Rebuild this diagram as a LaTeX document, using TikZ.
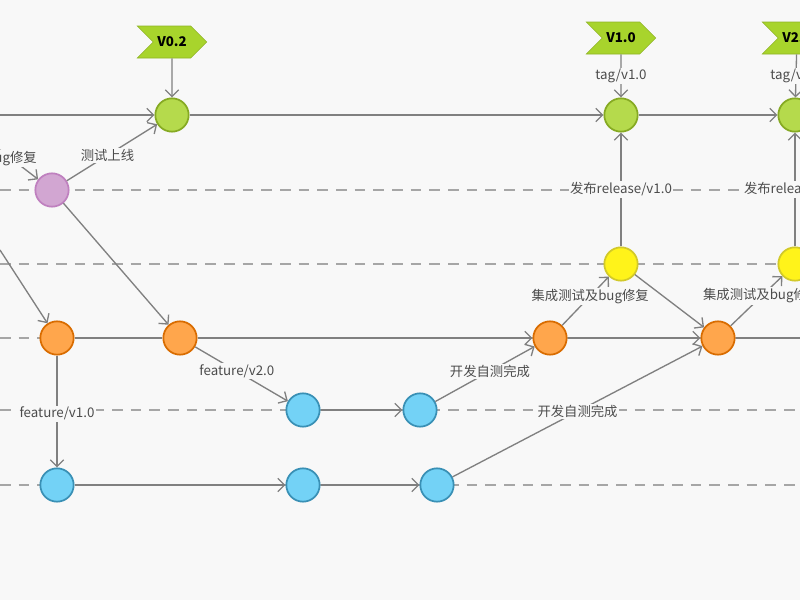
\documentclass[tikz,border=0pt]{standalone}
\usepackage{fontspec}
\setmainfont{Noto Sans CJK SC}
\usetikzlibrary{arrows.meta,shapes.symbols}
\definecolor{bgc}{HTML}{F8F8F8}
\definecolor{linec}{HTML}{808080}
\definecolor{tagc}{HTML}{A8D42C}
\begin{document}
\begin{tikzpicture}
[ x=0.75pt, y=-0.75pt, font=\normalsize
, commit/.style={circle, minimum size=25pt, inner sep=0pt, line width=1.3pt}
, master/.style={commit, fill=tagc!85!white, draw=tagc!80!black}
, hotfix/.style={commit, fill=violet!35!white, draw=violet!50!white}
, devel/.style={commit, fill=orange!70!white, draw=orange!85!black}
, feat/.style={commit, fill=cyan!55!white, draw=cyan!70!black}
, release/.style={commit, fill=yellow!90!white, draw=yellow!80!black}
, tag/.style={signal, signal to=east, signal from=west, fill=tagc, draw=tagc!85!black, font=\bfseries, minimum width=52pt, minimum height=24pt, inner sep=2pt}
, flow/.style={draw=linec, line width=1pt, -{Straight Barb[length=5pt,width=10pt]}}
, lane/.style={draw=linec!70, dashed, dash pattern=on 8pt off 6pt, line width=0.8pt}
, lbl/.style={fill=bgc, inner sep=1pt, text=black!70}
]
\fill[bgc] (0,0) rectangle (800,600);
\useasboundingbox (0,0) rectangle (800,600);
% lanes
\foreach \y in {190,264,338,410,485}
  \draw[lane] (0,\y) -- (800,\y);
% tags
\node (t02) [tag] at (172,42) {V0.2};
\node (t10) [tag] at (621,38) {V1.0};
\node (t20) [tag] at (797,38) {V2.0};
% master
\node (m1) [master] at (172,115) {};
\node (m2) [master] at (621,115) {};
\node (m3) [master] at (795,115) {};
% hotfix
\node (h1) [hotfix] at (52,190) {};
% release
\node (r1) [release] at (621,264) {};
\node (r2) [release] at (795,264) {};
% develop
\node (d1) [devel] at (57,338) {};
\node (d2) [devel] at (180,338) {};
\node (d3) [devel] at (550,338) {};
\node (d4) [devel] at (718,338) {};
% features
\node (f1) [feat] at (303,410) {};
\node (f2) [feat] at (420,410) {};
\node (f3) [feat] at (57,485) {};
\node (f4) [feat] at (303,485) {};
\node (f5) [feat] at (437,485) {};
\coordinate (inM) at (0,115);
\coordinate (inH) at (0,150);
\coordinate (inD) at (0,250);
\coordinate (outD) at (800,338);
% connectors
\draw[flow] (inM) -- (m1);
\draw[flow] (m1) -- (m2);
\draw[flow] (m2) -- (m3);
\draw[flow] (inH) -- node[lbl, pos=0.3] {bug修复} (h1);
\draw[flow] (inD) -- (d1);
\draw[flow] (h1) -- node[lbl, pos=0.45] {测试上线} (m1);
\draw[flow] (h1) -- (d2);
\draw[draw=linec, line width=1pt] (d1) -- (d2);
\draw[flow] (d2) -- (d3);
\draw[flow] (d3) -- (d4);
\draw[draw=linec, line width=1pt] (d4) -- (outD);
\draw[flow] (d1) -- node[lbl, pos=0.52] {feature/v1.0} (f3);
\draw[flow] (d2) -- node[lbl, pos=0.45] {feature/v2.0} (f1);
\draw[flow] (f1) -- (f2);
\draw[flow] (f2) -- node[lbl, pos=0.55] {开发自测完成} (d3);
\draw[flow] (f3) -- (f4);
\draw[flow] (f4) -- (f5);
\draw[flow] (f5) -- node[lbl, pos=0.5] {开发自测完成} (d4);
\draw[flow] (d3) -- node[lbl, pos=0.6] {集成测试及bug修复} (r1);
\draw[flow] (r1) -- node[lbl, pos=0.5] {发布release/v1.0} (m2);
\draw[flow] (r1) -- (d4);
\draw[flow] (d4) -- node[lbl, pos=0.6] {集成测试及bug修复} (r2);
\draw[flow] (r2) -- node[lbl, pos=0.5] {发布release/v2.0} (m3);
\draw[flow] (t02) -- (m1);
\draw[flow] (t10) -- node[lbl, pos=0.5] {tag/v1.0} (m2);
\draw[flow] (t20) -- node[lbl, pos=0.5] {tag/v2.0} (m3);
\end{tikzpicture}
\end{document}
